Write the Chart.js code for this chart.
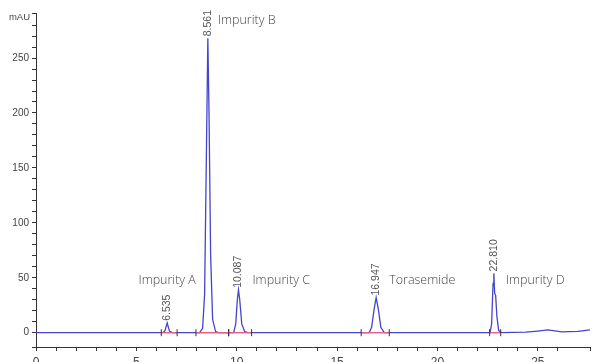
<!DOCTYPE html>
<html>
<head>
<meta charset="utf-8">
<script src="https://cdn.jsdelivr.net/npm/chart.js@4"></script>
<style>
  html, body { margin: 0; padding: 0; background: #fff; overflow: hidden; }
  #wrap { width: 595px; height: 374px; }
</style>
</head>
<body>
<div id="wrap"><canvas id="chart"></canvas></div>
<script>
// chromatogram trace (min, mAU)
const times = [0, 6.3, 6.42, 6.535, 6.65, 6.8, 8.15, 8.3, 8.4, 8.48, 8.561, 8.62, 8.7, 8.8, 8.95, 9.1,
  9.85, 9.95, 10.03, 10.087, 10.15, 10.25, 10.4, 10.55, 16.6, 16.72, 16.85, 16.947, 17.05, 17.18, 17.35,
  22.62, 22.7, 22.77, 22.81, 22.85, 22.9, 22.96, 23.05, 23.2, 24.4, 25.0, 25.5, 26.2, 27.0, 27.6];
const mAU = [0, 0, 1.5, 9, 1.5, 0, 0, 4, 35, 150, 268, 200, 70, 12, 1, 0,
  0, 8, 30, 39, 30, 8, 1, 0, 0, 5, 22, 32, 22, 5, 0,
  0, 8, 45, 54, 36, 34, 15, 2, 0, 0.5, 1.5, 2.5, 0.8, 1.2, 2.5];

// peaks
const peakNames = ["Impurity A", "Impurity B", "Impurity C", "Torasemide", "Impurity D"];
const peakTimes = [6.535, 8.561, 10.087, 16.947, 22.810];
const peakHeights = [9, 268, 39, 32, 54];

// integration baselines
const baseStart = [6.24, 7.97, 9.6, 16.2, 22.6];
const baseEnd = [7.03, 9.6, 10.74, 17.6, 23.15];

const xTicks = [0, 5, 10, 15, 20, 25];
const yTicks = [0, 50, 100, 150, 200, 250];

const datasets = [{
  data: times.map((t, i) => ({ x: t, y: mAU[i] })),
  borderColor: "#4444cc",
  borderWidth: 1.3,
  pointRadius: 0,
  order: 2
}];
baseStart.forEach((s, i) => {
  datasets.push({
    data: [{ x: s, y: 0 }, { x: baseEnd[i], y: 0 }],
    borderColor: "#e2608c",
    borderWidth: 1.4,
    pointStyle: "line",
    rotation: 90,
    pointRadius: 3.5,
    pointBorderColor: "#333",
    pointBorderWidth: 1,
    order: 1
  });
});

// label offsets (px) for peak names
const nameStyle = [
  { dx: 0, align: "center", y: 48 },
  { dx: 10, align: "left", y: 284 },
  { dx: 14, align: "left", y: 48 },
  { dx: 13, align: "left", y: 48 },
  { dx: 12, align: "left", y: 48 }
];

const peakLabels = {
  id: "peakLabels",
  afterDatasetsDraw(chart) {
    const { ctx, scales: { x, y } } = chart;
    ctx.save();
    // retention times, rotated
    ctx.font = "10.5px 'Liberation Sans Narrow', 'Liberation Sans', Arial, sans-serif";
    ctx.fillStyle = "#555";
    peakTimes.forEach((t, i) => {
      const px = x.getPixelForValue(t);
      const py = y.getPixelForValue(peakHeights[i]) - 2;
      ctx.save();
      ctx.translate(px, py);
      ctx.rotate(-Math.PI / 2);
      ctx.textAlign = "left";
      ctx.textBaseline = "middle";
      ctx.fillText(t.toFixed(3), 0, 0);
      ctx.restore();
    });
    // peak names
    ctx.font = "300 12.5px 'Open Sans', sans-serif";
    ctx.fillStyle = "#444";
    ctx.textBaseline = "middle";
    peakNames.forEach((n, i) => {
      const st = nameStyle[i];
      ctx.textAlign = st.align;
      ctx.fillText(n, x.getPixelForValue(peakTimes[i]) + st.dx, y.getPixelForValue(st.y));
    });
    // unit label
    ctx.font = "9.5px 'Liberation Sans', Arial, sans-serif";
    ctx.fillStyle = "#444";
    ctx.textAlign = "right";
    ctx.fillText("mAU", 30, y.top + 4);
    ctx.restore();
  }
};

new Chart(document.getElementById("chart"), {
  type: "line",
  data: { datasets },
  options: {
    responsive: true,
    maintainAspectRatio: false,
    animation: false,
    layout: { padding: { top: 13, right: 0, left: 0, bottom: 0 } },
    plugins: { legend: { display: false }, tooltip: { enabled: false } },
    scales: {
      x: {
        type: "linear",
        min: 0,
        max: 27.6,
        border: { color: "#333", width: 1 },
        grid: { drawOnChartArea: false, tickLength: 4, tickColor: "#333" },
        ticks: {
          stepSize: 1,
          autoSkip: false,
          maxRotation: 0,
          padding: 4,
          color: "#444",
          font: { family: "'Liberation Sans', Arial, sans-serif", size: 12 },
          callback: v => xTicks.includes(v) ? v : ""
        },
        afterFit: s => { s.height = 27; }
      },
      y: {
        min: -13,
        max: 291,
        border: { color: "#333", width: 1 },
        grid: { drawOnChartArea: false, tickLength: 4, tickColor: "#333" },
        ticks: {
          stepSize: 10,
          autoSkip: false,
          padding: 3,
          color: "#444",
          font: { family: "'Liberation Sans', Arial, sans-serif", size: 10 },
          callback: v => yTicks.includes(v) ? v : ""
        },
        afterFit: s => { s.width = 36; }
      }
    }
  },
  plugins: [peakLabels]
});
</script>
</body>
</html>
